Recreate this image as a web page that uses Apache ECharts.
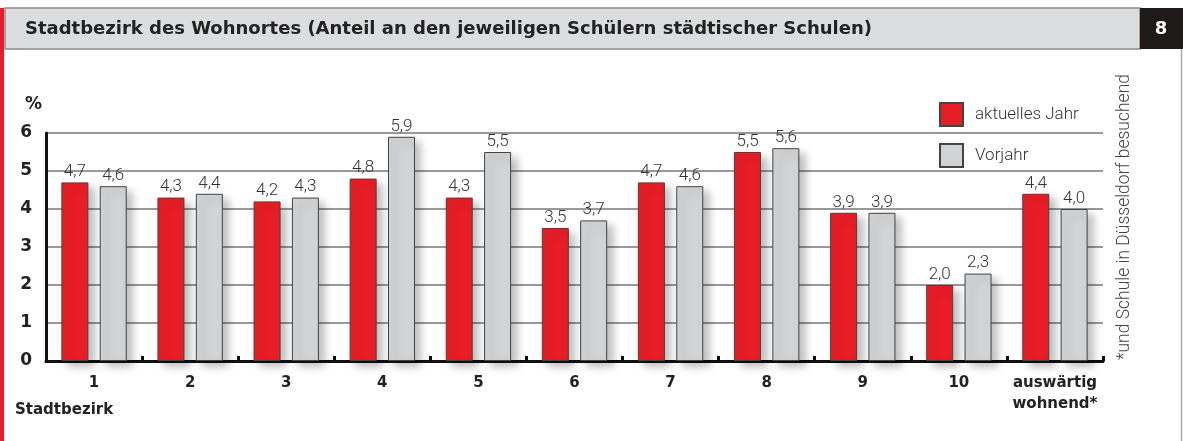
<!DOCTYPE html>
<html>
<head>
<meta charset="utf-8">
<script src="https://cdn.jsdelivr.net/npm/echarts@6/dist/echarts.min.js"></script>
<style>
html, body { margin: 0; padding: 0; background: #fff; }
#main { width: 1183px; height: 441px; }
</style>
</head>
<body>
<div id="main"></div>
<script>
var categories = ['1', '2', '3', '4', '5', '6', '7', '8', '9', '10', 'auswärtig\nwohnend*'];
var aktuell = [4.7, 4.3, 4.2, 4.8, 4.3, 3.5, 4.7, 5.5, 3.9, 2.0, 4.4];
var vorjahr = [4.6, 4.4, 4.3, 5.9, 5.5, 3.7, 4.6, 5.6, 3.9, 2.3, 4.0];
var yTicks = [0, 1, 2, 3, 4, 5, 6];

var RED = '#e81d25';
var GREY = '#d2d3d5';
var FONT = '"DejaVu Sans", "Noto Sans", sans-serif';
var LIGHT = 'Roboto, "Noto Sans", sans-serif';

var myChart = echarts.init(document.getElementById('main'));

var komma = function (p) {
	return p.value.toFixed(1).replace('.', ',');
};

var barStyle = function (color) {
	return {
		color: color,
		borderColor: '#444',
		borderWidth: 1,
		shadowBlur: 8,
		shadowColor: 'rgba(0,0,0,0.25)',
		shadowOffsetX: 6,
		shadowOffsetY: 5
	};
};

var barLabel = {
	show: true, position: 'top', distance: 2, formatter: komma,
	fontFamily: LIGHT, fontWeight: 300, fontSize: 17, color: '#333'
};

var option = {
	backgroundColor: '#fff',
	animation: false,
	grid: { left: 46, right: 80, top: 133, bottom: 80 },
	legend: {
		orient: 'vertical',
		left: 934,
		top: 97,
		itemWidth: 23,
		itemHeight: 23,
		itemGap: 16,
		icon: 'rect',
		textStyle: { fontFamily: LIGHT, fontWeight: 300, fontSize: 17, color: '#333', padding: [0, 0, 0, 7] },
		data: ['aktuelles Jahr', 'Vorjahr']
	},
	xAxis: {
		type: 'category',
		data: categories,
		axisLine: { lineStyle: { color: '#111', width: 3 } },
		axisTick: { show: true, inside: true, length: 5, lineStyle: { color: '#111', width: 3 } },
		axisLabel: { fontFamily: FONT, fontWeight: 'bold', fontSize: 15, color: '#222', margin: 12, lineHeight: 21, interval: 0 }
	},
	yAxis: {
		type: 'value',
		min: yTicks[0],
		max: yTicks[yTicks.length - 1],
		interval: 1,
		axisLine: { show: true, lineStyle: { color: '#111', width: 3 } },
		axisTick: { show: false },
		axisLabel: { fontFamily: FONT, fontWeight: 'bold', fontSize: 17, color: '#222', margin: 14 },
		splitLine: { lineStyle: { color: '#999', width: 2 } }
	},
	series: [
		{
			name: 'aktuelles Jahr',
			type: 'bar',
			data: aktuell,
			barWidth: 27,
			barGap: '42%',
			itemStyle: barStyle(RED),
			label: barLabel,
			z: 3
		},
		{
			name: 'Vorjahr',
			type: 'bar',
			data: vorjahr,
			barWidth: 27,
			itemStyle: barStyle(GREY),
			label: barLabel,
			z: 3
		}
	],
	graphic: [
		// Kopfzeile
		{ type: 'rect', shape: { x: 5, y: 8, width: 1135, height: 41 },
			style: { fill: '#dcdddf', stroke: '#8a8a8a', lineWidth: 1.5 } },
		{ type: 'rect', shape: { x: 1140, y: 8, width: 43, height: 41 },
			style: { fill: '#1e1a1a' } },
		{ type: 'text', x: 1161, y: 29,
			style: { text: '8', fill: '#fff', font: 'bold 18px ' + FONT, textAlign: 'center', textVerticalAlign: 'middle' } },
		{ type: 'text', x: 25, y: 29,
			style: { text: 'Stadtbezirk des Wohnortes (Anteil an den jeweiligen Schülern städtischer Schulen)',
				fill: '#222', font: 'bold 18px ' + FONT, textVerticalAlign: 'middle' } },
		// Rahmen
		{ type: 'rect', shape: { x: 0, y: 8, width: 4, height: 433 }, style: { fill: RED } },
		{ type: 'line', shape: { x1: 1181.5, y1: 49, x2: 1181.5, y2: 441 }, style: { stroke: '#aaa', lineWidth: 1.5 } },
		// Achsentitel
		{ type: 'text', x: 25, y: 105,
			style: { text: '%', fill: '#222', font: 'bold 17px ' + FONT, textVerticalAlign: 'middle' } },
		{ type: 'text', x: 15, y: 410,
			style: { text: 'Stadtbezirk', fill: '#222', font: 'bold 15px ' + FONT, textVerticalAlign: 'middle' } },
		// Fussnote
		{ type: 'text', x: 1125, y: 217, rotation: Math.PI / 2,
			style: { text: '*und Schule in Düsseldorf besuchend', fill: '#444', font: '300 17.5px ' + LIGHT,
				textAlign: 'center', textVerticalAlign: 'middle' } }
	]
};

myChart.setOption(option);
</script>
</body>
</html>
